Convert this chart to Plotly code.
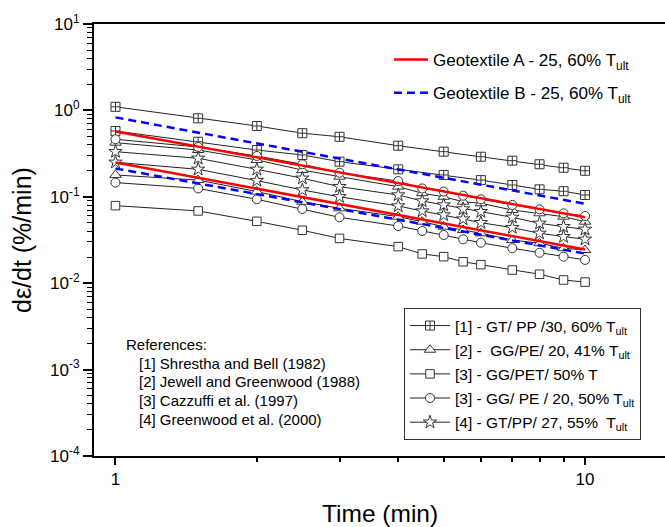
import math
import plotly.graph_objects as go

# ---------------- data ----------------
t_sparse = [1, 1.5, 2, 2.5, 3, 4, 5, 6, 7, 8, 9, 10]
t_dense = [1, 1.5, 2, 2.5, 3, 4, 4.5, 5, 5.5, 6, 7, 8, 9, 10]

# [1] GT/PP/30, 60% Tult (two curves, square-cross markers)
gt_pp30_hi = [1.10, 0.81, 0.66, 0.545, 0.495, 0.39, 0.333, 0.291, 0.262, 0.238, 0.217, 0.20]
gt_pp30_lo = [0.578, 0.434, 0.348, 0.305, 0.255, 0.208, 0.179, 0.156, 0.137, 0.122, 0.116, 0.105]

# [2] GG/PE/20, 41% Tult (triangles)
gg_pe41_hi = [0.423, 0.348, 0.267, 0.204, 0.171, 0.131, 0.110, 0.100, 0.0877, 0.0841, 0.0703, 0.0644, 0.0589, 0.0515]
gg_pe41_lo = [0.179, 0.156, 0.115, 0.0877, 0.0736, 0.0589, 0.0515, 0.0451, 0.0413, 0.0378, 0.0316, 0.0290, 0.0254, 0.0242]

# [3] GG/PET/50% T (squares)
gg_pet50 = [0.079, 0.0686, 0.0520, 0.0410, 0.0330, 0.0265, 0.0218, 0.0203, 0.0177, 0.0164, 0.0142, 0.0127, 0.0109, 0.0103]

# [3] GG/PE/20, 50% Tult (circles)
gg_pe50_hi = [0.463, 0.377, 0.297, 0.238, 0.190, 0.152, 0.125, 0.115, 0.103, 0.0935, 0.0804, 0.0716, 0.0644, 0.060]
gg_pe50_lo = [0.146, 0.125, 0.0935, 0.0723, 0.0579, 0.0459, 0.0402, 0.0361, 0.0322, 0.0294, 0.0254, 0.0225, 0.0203, 0.0186]

# [4] GT/PP/27, 55% Tult (stars)
gt_pp27_hi = [0.333, 0.279, 0.208, 0.164, 0.131, 0.105, 0.0894, 0.0804, 0.0723, 0.0673, 0.0579, 0.0493, 0.0451, 0.042]
gt_pp27_lo = [0.251, 0.208, 0.154, 0.120, 0.100, 0.0783, 0.0685, 0.0616, 0.0553, 0.0501, 0.0440, 0.0378, 0.0345, 0.0322]

# Geotextile fits
t_geo = [1, 10]
geo_a_hi = [0.57, 0.058]
geo_a_lo = [0.25, 0.0245]
geo_b_hi = [0.83, 0.083]
geo_b_lo = [0.213, 0.022]

x_ticks = [1, 10]
x_ticktext = ["1", "10"]
x_minor = [2, 3, 4, 5, 6, 7, 8, 9]
y_exps = [-4, -3, -2, -1, 0, 1]

references = [
    "[1] Shrestha and Bell (1982)",
    "[2] Jewell and Greenwood (1988)",
    "[3] Cazzuffi et al. (1997)",
    "[4] Greenwood et al. (2000)",
]

# ---------------- figure ----------------
FONT = "Liberation Sans, Arial, Helvetica, sans-serif"
fig = go.Figure()

def data_trace(x, y, symbol, name, group, show, size=9):
    fig.add_trace(go.Scatter(
        x=x, y=y, mode="lines+markers", name=name,
        legend="legend", legendgroup=group, showlegend=show,
        line=dict(color="#222222", width=1),
        marker=dict(symbol=symbol, size=size, color="white",
                    line=dict(color="#333333", width=1)),
    ))

NB = "\u00a0"
data_trace(t_sparse, gt_pp30_hi, "square-cross", "[1] - GT/ PP /30, 60% T<sub>ult</sub>", "g1", True)
data_trace(t_sparse, gt_pp30_lo, "square-cross", "[1]", "g1", False)
data_trace(t_dense, gg_pe41_hi, "triangle-up", "[2] -" + NB + " GG/PE/ 20, 41% T<sub>ult</sub>", "g2", True, size=10)
data_trace(t_dense, gg_pe41_lo, "triangle-up", "[2]", "g2", False, size=10)
data_trace(t_dense, gg_pet50, "square", "[3] - GG/PET/ 50% T", "g3", True, size=8.5)
data_trace(t_dense, gg_pe50_hi, "circle", "[3] - GG/ PE / 20, 50% T<sub>ult</sub>", "g4", True)
data_trace(t_dense, gg_pe50_lo, "circle", "[3]", "g4", False)
data_trace(t_dense, gt_pp27_hi, "star", "[4] - GT/PP/ 27, 55%" + NB + " T<sub>ult</sub>", "g5", True, size=10)
data_trace(t_dense, gt_pp27_lo, "star", "[4]", "g5", False, size=10)

fig.add_trace(go.Scatter(x=t_geo, y=geo_a_hi, mode="lines", name="Geotextile A - 25, 60% T<sub>ult</sub>",
                         legend="legend2", legendgroup="ga", line=dict(color="#ff0000", width=2.5)))
fig.add_trace(go.Scatter(x=t_geo, y=geo_a_lo, mode="lines", name="A", showlegend=False,
                         legend="legend2", legendgroup="ga", line=dict(color="#ff0000", width=2.5)))
fig.add_trace(go.Scatter(x=t_geo, y=geo_b_hi, mode="lines", name="Geotextile B - 25, 60% T<sub>ult</sub>",
                         legend="legend2", legendgroup="gb",
                         line=dict(color="#0000ff", width=2.5, dash="8px,5px")))
fig.add_trace(go.Scatter(x=t_geo, y=geo_b_lo, mode="lines", name="B", showlegend=False,
                         legend="legend2", legendgroup="gb",
                         line=dict(color="#0000ff", width=2.5, dash="8px,5px")))

W, H = 665, 527
L, R, T, B = 94, 0, 24, 71
PW, PH = W - L - R, H - T - B

def px_x(p):
    return (p - L) / PW

def px_y(p):
    return 1 - (p - T) / PH

y_tickvals = [10.0 ** e for e in y_exps]
y_ticktext = ["10<sup>%d</sup>" % e for e in y_exps]
y_minor = [k * 10.0 ** e for e in y_exps[:-1] for k in range(2, 10)]

fig.update_layout(
    width=W, height=H,
    margin=dict(l=L, r=R, t=T, b=B, pad=0),
    paper_bgcolor="white", plot_bgcolor="white",
    font=dict(family=FONT, color="black", size=16),
    xaxis=dict(
        type="log", range=[math.log10(0.9), math.log10(14.8)],
        showline=True, linewidth=2, linecolor="black", mirror=True,
        showgrid=False, zeroline=False,
        ticks="outside", ticklen=7, tickwidth=1.5, tickcolor="black",
        tickmode="array", tickvals=x_ticks, ticktext=x_ticktext,
        tickfont=dict(size=17),
        minor=dict(tickmode="array", tickvals=x_minor, ticks="outside",
                   ticklen=4, tickwidth=1.5, tickcolor="black", showgrid=False),
    ),
    yaxis=dict(
        type="log", range=[-4, 1],
        showline=True, linewidth=2, linecolor="black",
        showgrid=False, zeroline=False,
        ticks="outside", ticklen=9, tickwidth=1.5, tickcolor="black",
        tickmode="array", tickvals=y_tickvals, ticktext=y_ticktext,
        tickfont=dict(size=17),
        minor=dict(tickmode="array", tickvals=y_minor, ticks="outside",
                   ticklen=5, tickwidth=1, tickcolor="black", showgrid=False),
    ),
    legend=dict(
        x=px_x(404), y=px_y(308), xanchor="left", yanchor="top",
        bordercolor="#333333", borderwidth=1, bgcolor="white",
        font=dict(size=15.5), tracegroupgap=1, traceorder="grouped",
        itemwidth=40, entrywidth=188, entrywidthmode="pixels",
    ),
    legend2=dict(
        x=px_x(389), y=px_y(42), xanchor="left", yanchor="top",
        borderwidth=0, bgcolor="rgba(0,0,0,0)",
        font=dict(size=17), tracegroupgap=8, traceorder="grouped",
        itemwidth=34,
    ),
)

ann = []
ann.append(dict(text="d\u03b5/dt (%/min)", x=px_x(22), y=0.5, xref="paper", yref="paper",
                showarrow=False, textangle=-90, font=dict(size=25),
                xanchor="center", yanchor="middle"))
ann.append(dict(text="Time (min)", x=0.5, y=px_y(513), xref="paper", yref="paper",
                showarrow=False, font=dict(size=24.5), xanchor="center", yanchor="middle"))
ann.append(dict(text="References:", x=px_x(124), y=px_y(344), xref="paper", yref="paper",
                showarrow=False, font=dict(size=15), xanchor="left", yanchor="middle"))
ref_y = [363, 381, 400, 419]
for txt, yy in zip(references, ref_y):
    ann.append(dict(text=txt, x=px_x(137), y=px_y(yy), xref="paper", yref="paper",
                    showarrow=False, font=dict(size=15), xanchor="left", yanchor="middle"))
fig.update_layout(annotations=ann)

fig.write_html("out.html")
